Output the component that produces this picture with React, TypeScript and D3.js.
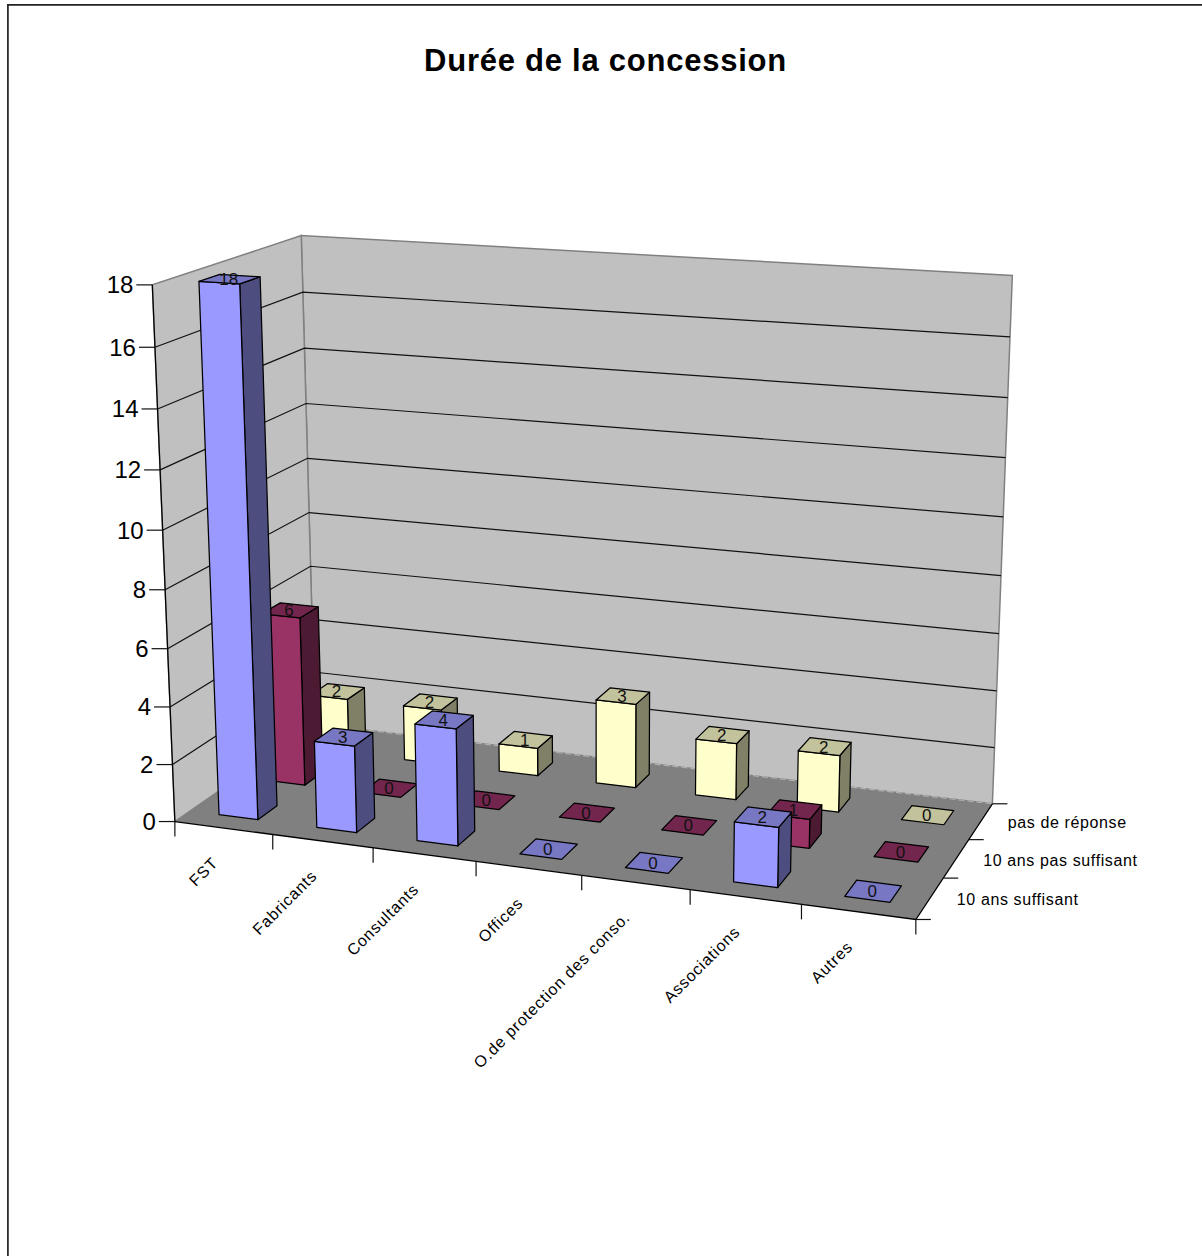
import React from "react";
import * as d3 from "d3";

const chartTitle = "Durée de la concession";
const categories = ["FST", "Fabricants", "Consultants", "Offices", "O.de protection des conso.", "Associations", "Autres"];
const seriesNames = ["10 ans suffisant", "10 ans pas suffisant", "pas de réponse"];
const suffisant = [18, 3, 4, 0, 0, 2, 0];
const pasSuffisant = [6, 0, 0, 0, 0, 1, 0];
const pasDeReponse = [2, 2, 1, 3, 2, 2, 0];
const seriesValues = [suffisant, pasSuffisant, pasDeReponse];
const valueTicks = [0, 2, 4, 6, 8, 10, 12, 14, 16, 18];

const seriesFaces = [
  { front: "#9999ff", top: "#7777c4", side: "#4d4d80" },
  { front: "#993366", top: "#73264d", side: "#4d1a33" },
  { front: "#ffffcc", top: "#c2c29c", side: "#808066" },
];

// Box corners as (category, depth, height in [0,1]) and where the camera puts them.
const calibration: [number, number, number, number, number][] = [
  [0, 0, 0, 175, 821],
  [1, 0, 0, 915, 921],
  [1, 1, 0, 993, 802],
  [0, 1, 0, 315, 725],
  [0, 0, 1, 153, 284],
  [1, 1, 1, 1012.5, 276],
  [0, 1, 1, 300.5, 236],
];

// Least-squares fit of a 3x4 projective camera (last entry fixed to 1).
function fitCamera(rows: typeof calibration): number[] {
  const A: number[][] = [];
  const b: number[] = [];
  for (const [X, Y, Z, u, v] of rows) {
    A.push([X, Y, Z, 1, 0, 0, 0, 0, -u * X, -u * Y, -u * Z]);
    b.push(u);
    A.push([0, 0, 0, 0, X, Y, Z, 1, -v * X, -v * Y, -v * Z]);
    b.push(v);
  }
  const n = 11;
  const M = d3.range(n).map((i) => [
    ...d3.range(n).map((j) => d3.sum(A, (r) => r[i] * r[j])),
    d3.sum(A, (r, k) => r[i] * b[k]),
  ]);
  for (let c = 0; c < n; c++) {
    let p = c;
    for (let r = c + 1; r < n; r++) if (Math.abs(M[r][c]) > Math.abs(M[p][c])) p = r;
    [M[c], M[p]] = [M[p], M[c]];
    for (let r = 0; r < n; r++) {
      if (r === c) continue;
      const f = M[r][c] / M[c][c];
      for (let k = c; k <= n; k++) M[r][k] -= f * M[c][k];
    }
  }
  return M.map((row, i) => row[n] / row[i]);
}

const cam = fitCamera(calibration);
type Pt = [number, number];
function project(X: number, Y: number, Z: number): Pt {
  const w = cam[8] * X + cam[9] * Y + cam[10] * Z + 1;
  return [
    (cam[0] * X + cam[1] * Y + cam[2] * Z + cam[3]) / w,
    (cam[4] * X + cam[5] * Y + cam[6] * Z + cam[7]) / w,
  ];
}

const xScale = d3.scaleLinear().domain([0, categories.length]).range([0, 1]);
const yScale = d3.scaleLinear().domain([0, seriesNames.length]).range([0, 1]);
const zScale = d3.scaleLinear().domain([0, 18]).range([0, 1]);
const GAP = 0.3;

const P = (cat: number, ser: number, val: number) => project(xScale(cat), yScale(ser), zScale(val));
const poly = (pts: Pt[]) => d3.line()(pts.concat([pts[0]])) + "Z";

function Bar({ c, s, v }: { c: number; s: number; v: number }) {
  const x0 = c + GAP, x1 = c + 1 - GAP, y0 = s + GAP, y1 = s + 1 - GAP;
  const faces = seriesFaces[s];
  const stroke = { stroke: "#000", strokeWidth: 1.25, strokeLinejoin: "round" as const };
  const top = <path d={poly([P(x0, y0, v), P(x1, y0, v), P(x1, y1, v), P(x0, y1, v)])} fill={faces.top} {...stroke} />;
  if (v === 0) return top;
  return (
    <g>
      <path d={poly([P(x1, y0, 0), P(x1, y1, 0), P(x1, y1, v), P(x1, y0, v)])} fill={faces.side} {...stroke} />
      <path d={poly([P(x0, y0, 0), P(x1, y0, 0), P(x1, y0, v), P(x0, y0, v)])} fill={faces.front} {...stroke} />
      {top}
    </g>
  );
}

const nC = categories.length;
const nS = seriesNames.length;
const FONT = "'Liberation Sans', Arial, sans-serif";

export default function App() {
  return (
    <svg
      width={1202}
      height={1256}
      style={{ position: "absolute", left: 0, top: 0, display: "block" }}
      fontFamily={FONT}
    >
      <rect x={0} y={0} width={1202} height={1256} fill="#fff" />
      <path d="M7.9,1256V4.8H1202" fill="none" stroke="#222" strokeWidth={1.7} />
      <text x={605.5} y={71} textAnchor="middle" fontSize={31} fontWeight={700} letterSpacing={0.75}>
        {chartTitle}
      </text>

      {/* walls and floor */}
      <path d={poly([P(0, nS, 0), P(nC, nS, 0), P(nC, nS, 18), P(0, nS, 18)])} fill="#c0c0c0" stroke="#808080" strokeWidth={1.5} />
      <path d={poly([P(0, 0, 0), P(0, nS, 0), P(0, nS, 18), P(0, 0, 18)])} fill="#c0c0c0" stroke="#808080" strokeWidth={1.5} />
      <path d={poly([P(0, 0, 0), P(nC, 0, 0), P(nC, nS, 0), P(0, nS, 0)])} fill="#808080" />
      <path d={d3.line()([P(0, 0, 0), P(nC, 0, 0), P(nC, nS, 0)])!} fill="none" stroke="#000" strokeWidth={1.25} />
      <path d={d3.line()([P(0, nS, 0), P(nC, nS, 0)])!} fill="none" stroke="#b0b0b0" strokeWidth={1.25} strokeDasharray="6 3" />

      {/* gridlines along both walls */}
      {valueTicks.filter((t) => t > 0 && t < 18).map((t) => (
        <path key={t} d={d3.line()([P(0, 0, t), P(0, nS, t), P(nC, nS, t)])!} fill="none" stroke="#111" strokeWidth={1.2} />
      ))}
      <path d={d3.line()([P(0, 0, 0), P(0, 0, 18)])!} stroke="#000" strokeWidth={1.25} fill="none" />

      {/* value axis */}
      {valueTicks.map((t) => {
        const [x, y] = P(0, 0, t);
        return (
          <g key={t}>
            <line x1={x - 16} x2={x} y1={y} y2={y} stroke="#111" strokeWidth={1.2} />
            <text x={x - 19} y={y + 8.5} textAnchor="end" fontSize={24}>{t}</text>
          </g>
        );
      })}

      {/* category axis */}
      {d3.range(nC + 1).map((c) => {
        const [x, y] = P(c, 0, 0);
        return <line key={c} x1={x} x2={x} y1={y} y2={y + 15} stroke="#111" strokeWidth={1.2} />;
      })}
      {categories.map((name, c) => {
        const [x, y] = P(c + 0.5, 0, 0);
        return (
          <text key={name} textAnchor="end" fontSize={16} letterSpacing={0.85} transform={`translate(${x - 4.5},${y + 36}) rotate(-45)`}>
            {name}
          </text>
        );
      })}

      {/* series axis */}
      {d3.range(nS + 1).map((s) => {
        const [x, y] = P(nC, s, 0);
        return <line key={s} x1={x} x2={x + 15} y1={y} y2={y} stroke="#111" strokeWidth={1.2} />;
      })}
      {seriesNames.map((name, s) => {
        const [x, y] = P(nC, s + 0.5, 0);
        return (
          <text key={name} x={x + 27} y={y + 7} fontSize={16} letterSpacing={0.62}>{name}</text>
        );
      })}

      {/* bars, painted from the back row forward */}
      {d3.range(nS - 1, -1, -1).map((s) =>
        d3.range(nC).map((c) => <Bar key={`${s}-${c}`} c={c} s={s} v={seriesValues[s][c]} />)
      )}

      {/* value labels on the bar tops */}
      {d3.range(nS - 1, -1, -1).map((s) =>
        d3.range(nC).map((c) => {
          const [x, y] = P(c + 0.5, s + 0.5, seriesValues[s][c]);
          return (
            <text key={`${s}-${c}`} x={x - 1} y={y + 6} textAnchor="middle" fontSize={17} fill="#111">
              {seriesValues[s][c]}
            </text>
          );
        })
      )}
    </svg>
  );
}
